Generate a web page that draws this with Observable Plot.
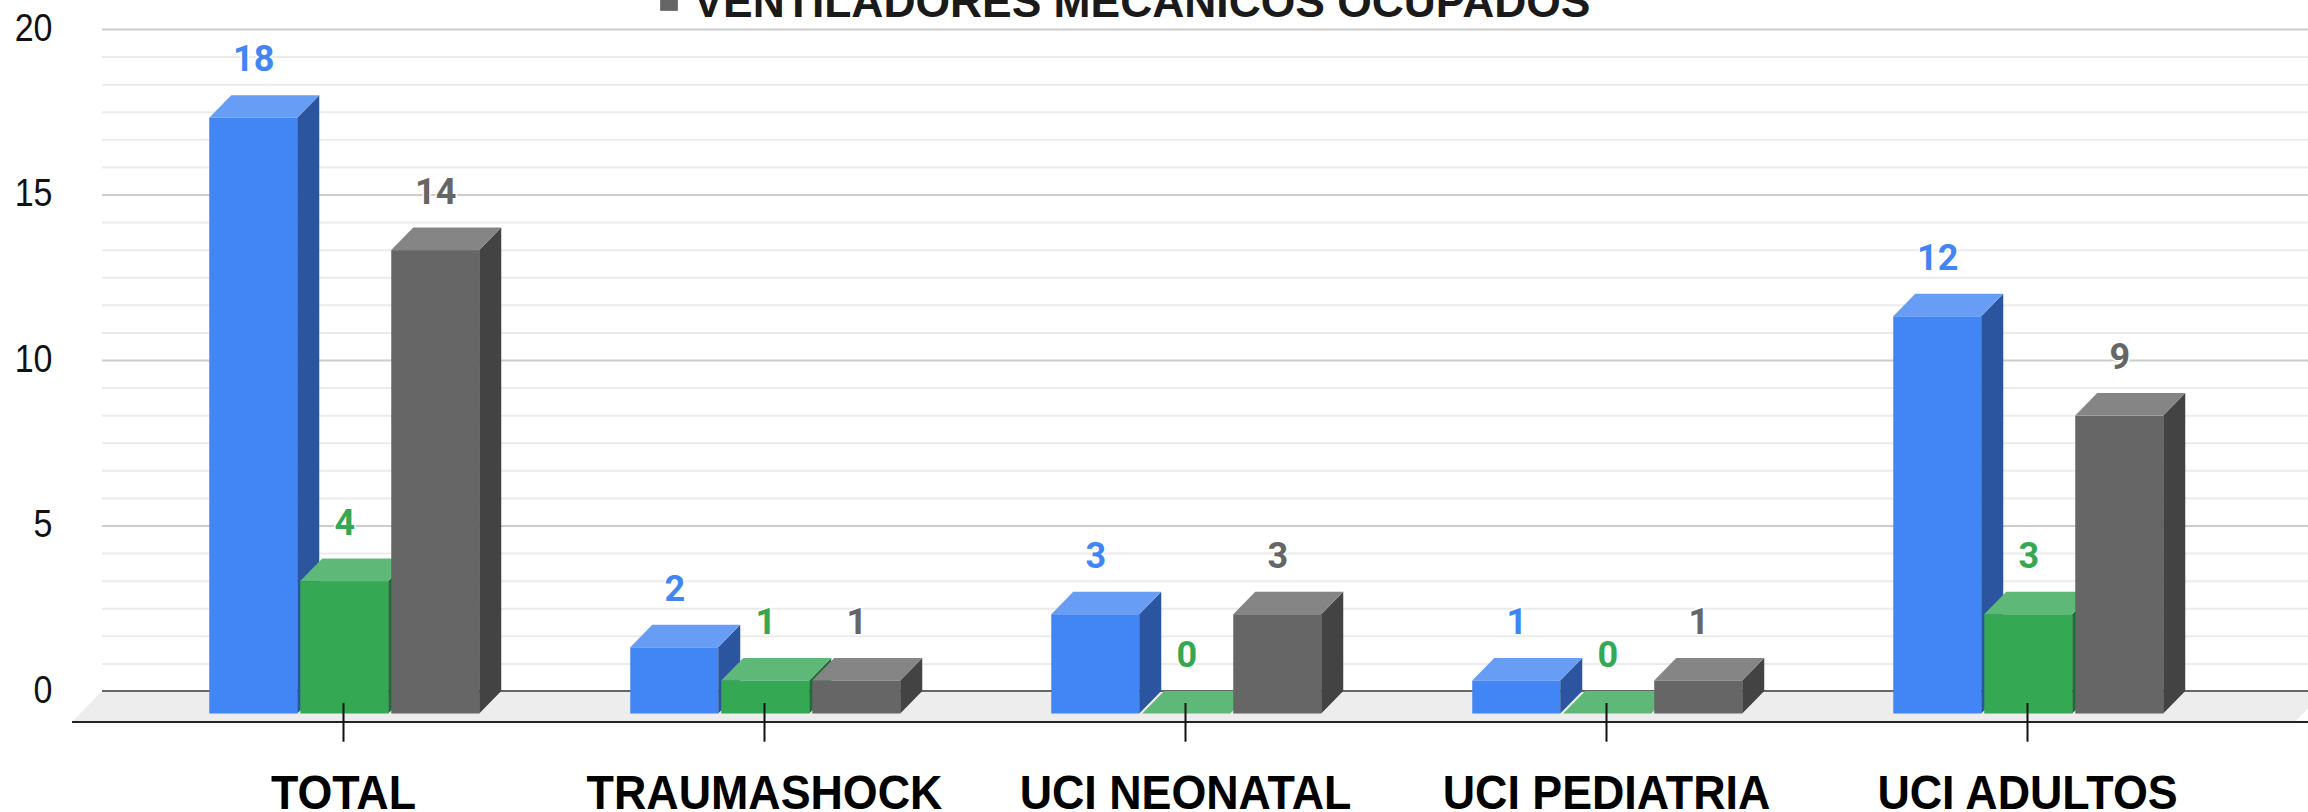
<!DOCTYPE html>
<html>
<head>
<meta charset="utf-8">
<script src="https://cdn.jsdelivr.net/npm/d3@7"></script>
<script src="https://cdn.jsdelivr.net/npm/@observablehq/plot@0.6"></script>
<style>
html,body{margin:0;padding:0;background:#fff;overflow:hidden}
svg{display:block}
</style>
</head>
<body>
<div id="chart"></div>
<script>
const categories = ["TOTAL", "TRAUMASHOCK", "UCI NEONATAL", "UCI PEDIATRIA", "UCI ADULTOS"];
const serieAzul = [18, 2, 3, 1, 12];
const serieVerde = [4, 1, 0, 0, 3];
const ventiladoresOcupados = [14, 1, 3, 1, 9];
const legendLabel = "VENTILADORES MECÁNICOS OCUPADOS";
const yTicks = [0, 5, 10, 15, 20];
const minorGrid = d3.range(0, 20, 5 / 6).filter(v => v > 0 && !yTicks.some(t => Math.abs(t - v) < 1e-6));

const W = 2308, H = 812;
const depthX = 22, depthY = 22.5;
const labelFont = "Roboto, sans-serif";
const axisFont = "'Liberation Sans', Arial, sans-serif";

function bar3d(values, colors, dx) {
  const rows = categories.map((c, i) => ({c, v: values[i]}));
  return [
    Plot.barY(rows, {
      x: "c", y: "v", fill: colors.front, dx, dy: depthY,
      render(index, scales, channels, dims, context, next) {
        const g = next(index, scales, channels, dims, context);
        const bw = scales.x.bandwidth();
        const s = d3.select(g);
        for (const i of index) {
          // the group is already translated by (dx, depthY)
          const x0 = scales.x(rows[i].c), x1 = x0 + bw;
          const yt = scales.y(rows[i].v) - depthY, y0 = scales.y(0) - depthY;
          const poly = (pts, fill) => s.append("polygon").attr("points", pts.join(" ")).attr("fill", fill);
          if (rows[i].v > 0) poly([[x1, yt + depthY], [x1 + depthX, yt], [x1 + depthX, y0], [x1, y0 + depthY]], colors.side);
          poly([[x0, yt + depthY], [x0 + depthX, yt], [x1 + depthX, yt], [x1, yt + depthY]], colors.top);
        }
        return g;
      }
    }),
    Plot.text(rows, {
      x: "c", y: "v", text: d => String(d.v), dx, dy: -36,
      fill: colors.front, stroke: "#fff", strokeWidth: 3, paintOrder: "stroke",
      fontFamily: labelFont, fontWeight: 700, fontSize: 36
    })
  ];
}

const floor = (index, {y}, values, {width}) => {
  const s = d3.create("svg:g");
  const yb = y(0);
  s.append("polygon")
    .attr("points", [[102, yb], [2325, yb], [2295, yb + 31], [72, yb + 31]].join(" "))
    .attr("fill", "#ededed");
  s.append("line").attr("x1", 102).attr("x2", width).attr("y1", yb).attr("y2", yb)
    .attr("stroke", "#666").attr("stroke-width", 2);
  s.append("line").attr("x1", 72).attr("x2", width).attr("y1", yb + 31).attr("y2", yb + 31)
    .attr("stroke", "#222").attr("stroke-width", 2);
  return s.node();
};

const plot = Plot.plot({
  width: W, height: H,
  marginLeft: 102, marginRight: 0, marginTop: 29, marginBottom: 109,
  style: {background: "#fff", overflow: "hidden"},
  x: {type: "band", domain: categories, range: [132.8, 2238], paddingInner: 0.7898, paddingOuter: 0.3949, align: 0.5, label: null},
  y: {domain: [0, 20], range: [691, 29], label: null},
  marks: [
    Plot.ruleY(minorGrid, {stroke: "#ebebeb", strokeWidth: 2}),
    Plot.ruleY(yTicks.filter(t => t > 0), {stroke: "#cccccc", strokeWidth: 2}),
    floor,
    ...bar3d(serieAzul, {front: "#4285f4", side: "#2b569f", top: "#689df6"}, -89.75),
    ...bar3d(serieVerde, {front: "#34a853", side: "#1f6d36", top: "#5eb978"}, 1.25),
    ...bar3d(ventiladoresOcupados, {front: "#666666", side: "#434343", top: "#858585"}, 92.25),
    Plot.axisY({anchor: "left", ticks: yTicks, tickSize: 0, tickPadding: 50, label: null,
      fontSize: 34, fontFamily: axisFont, fill: "#111", dy: 0.5}),
    Plot.axisX({anchor: "bottom", tickSize: 38.7, tickPadding: 35, label: null,
      fontSize: 44.8, fontWeight: 700, fontFamily: axisFont, fill: "#000", stroke: "#111", strokeWidth: 2}),
    Plot.dot([legendLabel], {frameAnchor: "top-left", dx: 566.5, dy: -27.5, symbol: "square", r: 10, fill: "#666666"}),
    Plot.text([legendLabel], {frameAnchor: "top-left", dx: 591, dy: -13, textAnchor: "start", lineAnchor: "bottom",
      fontSize: 44.4, fontWeight: 700, fontFamily: axisFont, fill: "#1a1a1a"})
  ]
});
document.getElementById("chart").append(plot);
// The reference's axis text is slightly taller than the font's natural proportions.
const yLabels = new Set(yTicks.map(String));
d3.select(plot).selectAll("text").each(function () {
  const s = this.textContent;
  const isCat = categories.includes(s);
  const isY = yLabels.has(s) && !this.closest('[font-family*="Roboto"]') && !this.closest('[stroke="#fff"]');
  if (!isCat && !isY) return;
  const k = isCat ? 1.09 : 1.14;
  const box = this.getBBox();
  const py = box.y + box.height * 0.8; // close to the baseline
  const t = this.getAttribute("transform") || "";
  this.setAttribute("transform", `${t} translate(0,${py}) scale(1,${k}) translate(0,${-py})`);
});
</script>
</body>
</html>
